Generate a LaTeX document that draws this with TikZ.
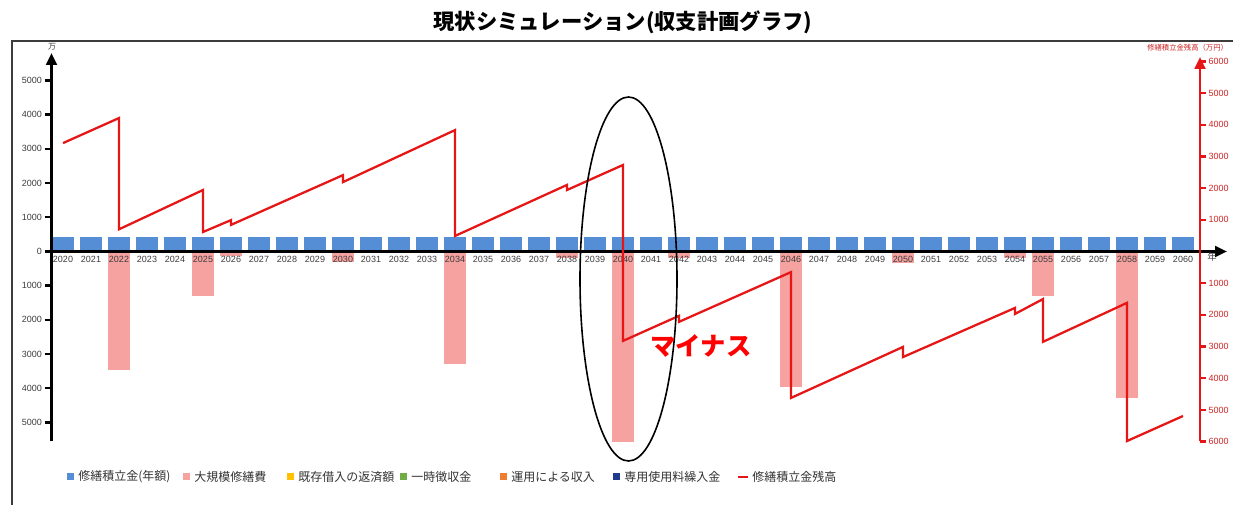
\documentclass[tikz,border=0pt]{standalone}
\usepackage{fontspec}
\setmainfont{Liberation Sans}
\newfontfamily\jp{Noto Sans CJK JP}
\usetikzlibrary{arrows.meta}
\definecolor{annualblue}{RGB}{85,142,213}
\definecolor{repairpink}{RGB}{245,162,160}
\definecolor{balancered}{RGB}{230,22,22}
\definecolor{loanyellow}{RGB}{255,192,0}
\definecolor{levygreen}{RGB}{112,173,71}
\definecolor{incomeorange}{RGB}{237,125,49}
\definecolor{feenavy}{RGB}{32,58,140}
\definecolor{ticktext}{RGB}{60,60,60}
\definecolor{redtext}{RGB}{205,35,35}

\begin{document}
\begin{tikzpicture}
[x=0.75pt,y=-0.75pt,
annual/.style={fill=annualblue},
repair/.style={fill=repairpink},
balance/.style={draw=balancered,line width=1.7pt,line join=miter},
axisline/.style={line width=2pt,-{Triangle[length=9pt,width=8pt]}},
raxisline/.style={draw=balancered,line width=2pt,-{Triangle[length=9pt,width=8pt]}},
yearlbl/.style={anchor=north,inner sep=0.5pt,yshift=-2.5pt,text=ticktext,font=\fontsize{6.75}{7}\selectfont},
ticklbl/.style={anchor=east,inner sep=1pt,text=ticktext,font=\fontsize{6.75}{7}\selectfont},
rticklbl/.style={anchor=west,inner sep=1pt,text=redtext,font=\fontsize{6.75}{7}\selectfont},
legendtxt/.style={anchor=west,inner sep=0pt,text=black!80,font=\jp\fontsize{9}{10}\selectfont},
frame/.style={draw=ticktext,line width=1.2pt}]

\useasboundingbox (0,0) rectangle (1233,505);

\node[font=\jp\bfseries\fontsize{16}{18}\selectfont] (title) at (623,22) {現状シミュレーション(収支計画グラフ)};
\draw[frame] (1240,41) -- (12,41) -- (12,510);

\begin{scope}[shift={(63,251.5)},x=21pt,y=0.02565pt]
\foreach \i in {0,...,40}
	\fill[annual] (\i-0.39,0) rectangle (\i+0.39,420);
\foreach \i/\v in {2/3465,5/1300,6/120,10/300,14/3290,18/180,20/5560,22/200,26/3950,30/340,34/180,35/1300,38/4280}
	\fill[repair] (\i-0.41,0) rectangle (\i+0.41,-\v);
\foreach \yr [count=\i from 0] in {2020,...,2060}
	\node[yearlbl] (yr\yr) at (\i,0) {\yr};
\end{scope}

\draw[axisline] (51.5,251.5) -- (1227,251.5);
\draw[axisline] (51.5,441.5) -- (51.5,53);
\draw[raxisline] (1200,441.5) -- (1200,57);

\begin{scope}[shift={(51.5,251.5)},y=0.02565pt]
\foreach \v [count=\k, evaluate=\v as \lbl using int(abs(\v))] in {-5000,-4000,...,5000}
	\draw[line width=1.8pt] (-7,\v) -- (0,\v) node[ticklbl] (lt\k) at (-7,\v) {\lbl};
\end{scope}

\begin{scope}[shift={(1200,251.5)},y=0.023775pt]
\foreach \v [count=\k, evaluate=\v as \lbl using int(abs(\v))] in {-6000,-5000,-4000,-3000,-2000,-1000,1000,2000,3000,4000,5000,6000}
	\draw[balancered,line width=1.8pt] (0,\v) -- (6,\v) node[rticklbl] (rt\k) at (6,\v) {\lbl};
\end{scope}

\node[text=ticktext,inner sep=0pt,font=\jp\fontsize{6}{6}\selectfont] (unitl) at (52,47) {万};
\node[text=ticktext,inner sep=0pt,font=\jp\fontsize{7}{7}\selectfont] (unitx) at (1212,257) {年};
\node[anchor=west,inner sep=0pt,text=redtext,font=\jp\fontsize{5.5}{6}\selectfont] (unitr) at (1147,48) {修繕積立金残高（万円）};

\begin{scope}[shift={(63,251.5)},x=21pt,y=0.023775pt]
\draw[balance] (0,3420) -- (2,4210) -- (2,700) -- (5,1940) -- (5,615) -- (6,990) -- (6,840)
	-- (10,2410) -- (10,2190) -- (14,3830) -- (14,490) -- (18,2100) -- (18,1940)
	-- (20,2730) -- (20,-2820) -- (22,-2030) -- (22,-2220) -- (26,-650) -- (26,-4620)
	-- (30,-3010) -- (30,-3330) -- (34,-1780) -- (34,-1970) -- (35,-1500) -- (35,-2850)
	-- (38,-1620) -- (38,-5980) -- (40,-5190);
\end{scope}

\draw[line width=1.2pt] (628.5,279) ellipse [x radius=48.5,y radius=182];
\node[text=red,inner sep=0pt,font=\jp\bfseries\fontsize{19}{19}\selectfont] (deficit) at (701,346) {マイナス};

\foreach \x/\c/\t [count=\k] in {67/annualblue/修繕積立金(年額),183/repairpink/大規模修繕費,287/loanyellow/既存借入の返済額,400/levygreen/一時徴収金,500/incomeorange/運用による収入,613/feenavy/専用使用料繰入金}{
	\fill[\c] (\x,473.5) rectangle ++(7,7);
	\node[legendtxt] (leg\k) at (\x+11,477) {\t};
}
\draw[balancered,line width=2.2pt] (738,477) -- (748,477);
\node[legendtxt] (leg7) at (752,477) {修繕積立金残高};
\end{tikzpicture}
\end{document}
